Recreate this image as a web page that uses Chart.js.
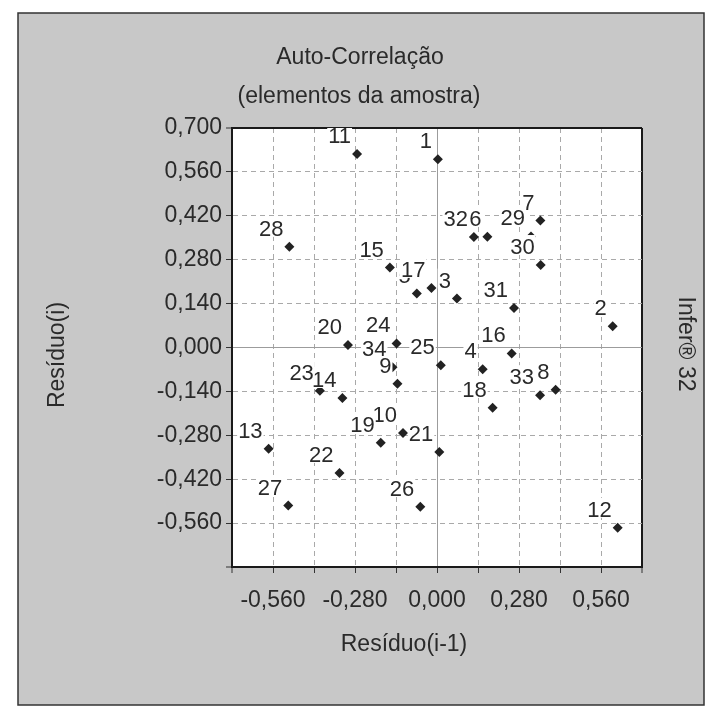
<!DOCTYPE html>
<html>
<head>
<meta charset="utf-8">
<script src="https://cdn.jsdelivr.net/npm/chart.js@4.4.0/dist/chart.umd.min.js"></script>
<style>
  html, body { margin: 0; padding: 0; background: #fff; }
  #wrap { width: 709px; height: 708px; }
</style>
</head>
<body>
<div id="wrap"><canvas id="lag" width="709" height="708"></canvas></div>
<script>
// one point per element of the sample: residuo(i-1) on x, residuo(i) on y
var elementos = ['1','2','3','4','5','6','7','8','9','10','11','12','13','14','15','16','17',
                 '18','19','20','21','22','23','24','25','26','27','28','29','30','31','32','33','34'];

var residuoAnterior = [0.003, 0.600, 0.068, 0.156, -0.069, 0.172, 0.353, 0.405, -0.135, -0.116,
                       -0.273, 0.617, -0.575, -0.323, -0.161, 0.255, -0.019, 0.190, -0.192, -0.304,
                       0.008, -0.333, -0.400, -0.138, 0.013, -0.057, -0.508, -0.504, 0.321, 0.354,
                       0.263, 0.126, 0.352, -0.152];

var residuoAtual = [0.600, 0.068, 0.156, -0.069, 0.172, 0.353, 0.405, -0.135, -0.116, -0.273,
                    0.617, -0.575, -0.323, -0.161, 0.255, -0.019, 0.190, -0.192, -0.304, 0.008,
                    -0.333, -0.400, -0.138, 0.013, -0.057, -0.508, -0.504, 0.321, 0.354, 0.263,
                    0.126, 0.352, -0.152, -0.063];

var xTicks = [-0.70, -0.56, -0.42, -0.28, -0.14, 0, 0.14, 0.28, 0.42, 0.56, 0.70];
var xTickLabels = [-0.56, -0.28, 0, 0.28, 0.56];
var yTicks = [-0.70, -0.56, -0.42, -0.28, -0.14, 0, 0.14, 0.28, 0.42, 0.56, 0.70];
var yTickLabels = [-0.56, -0.42, -0.28, -0.14, 0, 0.14, 0.28, 0.42, 0.56, 0.70];

var FONT = "'Liberation Sans', Arial, sans-serif";
var INK = '#2a2a2a';

function fmt(v) {
  return v.toFixed(3).replace('.', ',');
}
function hasLabel(list, v) {
  return list.some(function (t) { return Math.abs(t - v) < 1e-6; });
}

var points = [];
for (var i = 0; i < elementos.length; i++) {
  points.push({ x: residuoAnterior[i], y: residuoAtual[i] });
}

function gridColor(c) {
  var v = c.tick ? c.tick.value : 0;
  if (Math.abs(Math.abs(v) - 0.7) < 1e-6) return '#1a1a1a';
  if (Math.abs(v) < 1e-6) return '#9c9c9c';
  return '#a9a9a9';
}
function gridWidth(c) {
  var v = c.tick ? c.tick.value : 0;
  return Math.abs(Math.abs(v) - 0.7) < 1e-6 ? 2 : 1;
}
function gridDash(c) {
  var v = c.tick ? c.tick.value : 0;
  if (Math.abs(v) < 1e-6 || Math.abs(Math.abs(v) - 0.7) < 1e-6) return [];
  return [5, 4];
}

// panel, plot background and the free texts
var backdrop = {
  id: 'backdrop',
  beforeDraw: function (chart) {
    var ctx = chart.ctx, a = chart.chartArea;
    ctx.save();
    ctx.fillStyle = '#fff';
    ctx.fillRect(0, 0, chart.width, chart.height);
    ctx.fillStyle = '#c8c8c8';
    ctx.fillRect(18, 13, 686, 692);
    ctx.strokeStyle = '#333';
    ctx.lineWidth = 1.5;
    ctx.strokeRect(18, 13, 686, 692);
    ctx.fillStyle = '#fff';
    ctx.fillRect(a.left, a.top, a.right - a.left, a.bottom - a.top);
    ctx.restore();
  },
  afterDraw: function (chart) {
    var ctx = chart.ctx;
    ctx.save();
    ctx.fillStyle = INK;
    ctx.font = '23px ' + FONT;
    ctx.textAlign = 'center';
    ctx.textBaseline = 'middle';
    ctx.fillText('Auto-Correlação', 360, 58);
    ctx.fillText('(elementos da amostra)', 359, 97);
    ctx.fillText('Resíduo(i-1)', 404, 645);

    ctx.save();
    ctx.translate(58, 355);
    ctx.rotate(-Math.PI / 2);
    ctx.fillText('Resíduo(i)', 0, 0);
    ctx.restore();

    ctx.save();
    ctx.translate(685, 344);
    ctx.rotate(Math.PI / 2);
    ctx.fillText('Infer® 32', 0, 0);
    ctx.restore();
    ctx.restore();
  }
};

// element number up-left of each marker, on an opaque white box, clipped to the plot
var rotulos = {
  id: 'rotulos',
  afterDatasetsDraw: function (chart) {
    var ctx = chart.ctx, a = chart.chartArea;
    var meta = chart.getDatasetMeta(0);
    ctx.save();
    ctx.beginPath();
    ctx.rect(a.left, a.top, a.right - a.left, a.bottom - a.top);
    ctx.clip();
    ctx.font = '22px ' + FONT;
    ctx.textAlign = 'right';
    ctx.textBaseline = 'alphabetic';
    meta.data.forEach(function (el, i) {
      var tx = el.x - 6, ty = el.y - 11;
      var w = ctx.measureText(elementos[i]).width;
      ctx.fillStyle = '#fff';
      ctx.fillRect(tx - w - 1, ty - 19, w + 2, 20);
      ctx.fillStyle = INK;
      ctx.fillText(elementos[i], tx, ty);
    });
    ctx.restore();
  }
};

new Chart(document.getElementById('lag'), {
  type: 'scatter',
  data: {
    datasets: [{
      data: points,
      pointStyle: 'rectRot',
      pointRadius: 5,
      backgroundColor: '#222',
      borderColor: '#222',
      borderWidth: 0
    }]
  },
  options: {
    responsive: false,
    animation: false,
    events: [],
    layout: { padding: { top: 128, right: 67, left: 0, bottom: 0 } },
    plugins: { legend: { display: false }, tooltip: { enabled: false } },
    scales: {
      x: {
        type: 'linear',
        min: -0.7,
        max: 0.7,
        afterBuildTicks: function (s) { s.ticks = xTicks.map(function (v) { return { value: v }; }); },
        afterFit: function (s) { s.height = 141; },
        ticks: {
          autoSkip: false,
          maxRotation: 0,
          padding: 14,
          color: INK,
          font: { family: FONT, size: 23 },
          callback: function (v) { return hasLabel(xTickLabels, v) ? fmt(v) : ''; }
        },
        grid: { color: gridColor, lineWidth: gridWidth, tickLength: 6, tickColor: '#333', tickWidth: 1 },
        border: { display: true, color: '#1a1a1a', width: 2, dash: gridDash }
      },
      y: {
        type: 'linear',
        min: -0.7,
        max: 0.7,
        afterBuildTicks: function (s) { s.ticks = yTicks.map(function (v) { return { value: v }; }); },
        afterFit: function (s) { s.width = 232; },
        ticks: {
          autoSkip: false,
          padding: 4,
          color: INK,
          font: { family: FONT, size: 23 },
          callback: function (v) { return hasLabel(yTickLabels, v) ? fmt(v) : ''; }
        },
        grid: { color: gridColor, lineWidth: gridWidth, tickLength: 6, tickColor: '#333', tickWidth: 1 },
        border: { display: true, color: '#1a1a1a', width: 2, dash: gridDash }
      }
    }
  },
  plugins: [backdrop, rotulos]
});
</script>
</body>
</html>
